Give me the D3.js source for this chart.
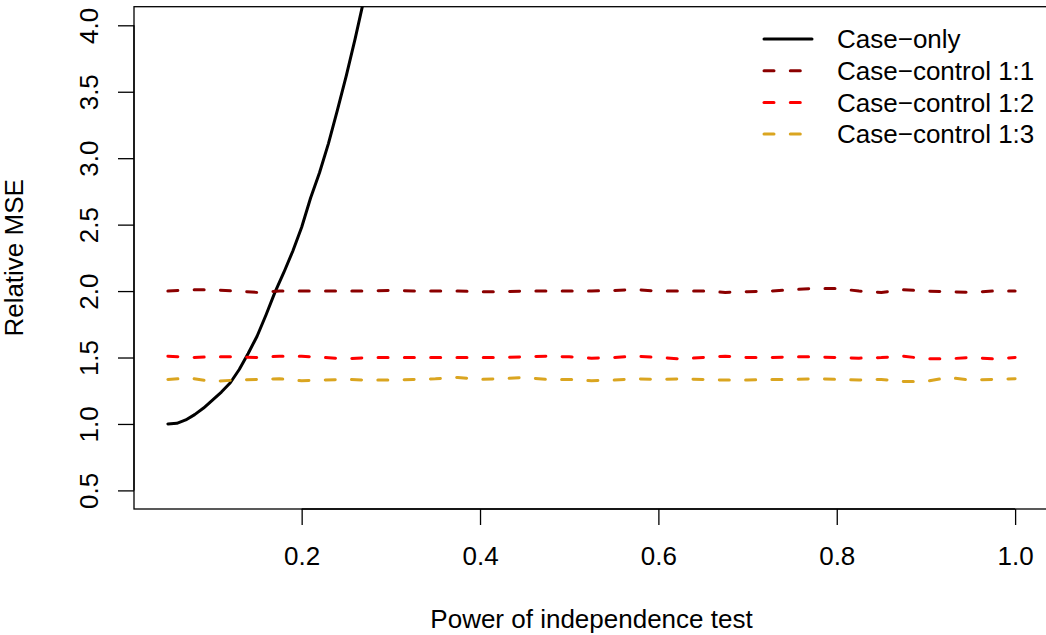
<!DOCTYPE html>
<html><head><meta charset="utf-8">
<script src="https://cdn.jsdelivr.net/npm/d3@7"></script>
<style>html,body{margin:0;padding:0;background:#fff;} svg{display:block;font-family:"Liberation Sans",Arial,sans-serif;}</style>
</head><body>
<script>
// ---- data ----
const caseOnlyX = [0.05,0.06,0.07,0.08,0.09,0.10,0.11,0.12,0.13,0.14,0.15,0.16,0.17,0.18,0.19,0.20,0.21,0.22,0.23,0.24,0.25,0.26,0.27];
const caseOnlyY = [1.00,1.005,1.03,1.07,1.12,1.18,1.24,1.31,1.41,1.53,1.66,1.82,1.99,2.14,2.30,2.48,2.70,2.89,3.11,3.36,3.62,3.90,4.20];
const ccX = [0.05,0.075,0.1,0.125,0.15,0.175,0.2,0.225,0.25,0.275,0.3,0.325,0.35,0.375,0.4,0.425,0.45,0.475,0.5,0.525,0.55,0.575,0.6,0.625,0.65,0.675,0.7,0.725,0.75,0.775,0.8,0.825,0.85,0.875,0.9,0.925,0.95,0.975,1.0];
const cc11 = [2.00,2.01,2.01,2.00,1.99,2.00,2.00,2.00,2.00,2.00,2.005,2.00,2.00,2.00,1.995,1.995,2.00,2.00,2.00,2.00,2.005,2.01,2.00,2.00,2.00,1.99,1.995,2.00,2.01,2.02,2.02,2.00,1.99,2.01,2.00,1.995,1.99,2.00,2.00];
const cc12 = [1.51,1.50,1.505,1.505,1.50,1.51,1.51,1.50,1.49,1.50,1.50,1.50,1.50,1.50,1.50,1.50,1.505,1.51,1.505,1.495,1.50,1.51,1.50,1.49,1.50,1.51,1.50,1.50,1.505,1.505,1.50,1.495,1.50,1.51,1.49,1.49,1.50,1.49,1.50];
const cc13 = [1.335,1.345,1.32,1.33,1.335,1.34,1.325,1.33,1.335,1.33,1.33,1.335,1.34,1.35,1.335,1.34,1.35,1.335,1.335,1.325,1.33,1.34,1.335,1.34,1.335,1.33,1.33,1.335,1.335,1.34,1.335,1.33,1.335,1.32,1.32,1.35,1.33,1.335,1.34];
const xTicks = [0.2,0.4,0.6,0.8,1.0];
const yTicks = [0.5,1.0,1.5,2.0,2.5,3.0,3.5,4.0];
const legendLabels = ["Case\u2212only","Case\u2212control 1:1","Case\u2212control 1:2","Case\u2212control 1:3"];
const seriesColors = ["#000000","#8B0000","#FF0000","#DAA520"];

// ---- chart ----
const W = 1046, H = 635;
const L = 134, R = 1049, T = 6.7, B = 509;
const FS = 26;
const svg = d3.select("body").append("svg").attr("width", W).attr("height", H);
const x = d3.scaleLinear().domain([0.012, 1.038]).range([L, R]);
const y = d3.scaleLinear().domain([0.36, 4.14]).range([B, T]);

svg.append("defs").append("clipPath").attr("id","clip")
  .append("rect").attr("x",L).attr("y",T).attr("width",R-L).attr("height",B-T);

const line = d3.line().x(d => x(d[0])).y(d => y(d[1]));
const g = svg.append("g").attr("clip-path","url(#clip)");
const dash = "10,16.3";
const series = [
  {xs: caseOnlyX, ys: caseOnlyY, dashed: false},
  {xs: ccX, ys: cc11, dashed: true},
  {xs: ccX, ys: cc12, dashed: true},
  {xs: ccX, ys: cc13, dashed: true}
];
series.forEach((s,i) => {
  g.append("path").datum(s.xs.map((v,j)=>[v,s.ys[j]]))
    .attr("d", line).attr("fill","none")
    .attr("stroke", seriesColors[i]).attr("stroke-width", 3)
    .attr("stroke-linecap","round").attr("stroke-linejoin","round")
    .attr("stroke-dasharray", s.dashed ? dash : null);
});

// box
svg.append("rect").attr("x",L).attr("y",T).attr("width",R-L).attr("height",B-T)
  .attr("fill","none").attr("stroke","#000").attr("stroke-width",1.3);

// x axis
const xAxis = svg.append("g").attr("transform",`translate(0,${B})`)
  .call(d3.axisBottom(x).tickValues(xTicks).tickSize(16).tickFormat(d3.format(".1f")));
xAxis.select(".domain").attr("d", `M${x(xTicks[0])},0H${x(xTicks[xTicks.length-1])}`).attr("stroke-width",1.3);
xAxis.selectAll(".tick line").attr("stroke-width",1.3);
xAxis.selectAll(".tick text").attr("y", 56).attr("dy", null)
  .attr("font-size", FS).attr("font-family", '"Liberation Sans",Arial,sans-serif').attr("fill","#000");

// y axis
const yAxis = svg.append("g").attr("transform",`translate(${L},0)`)
  .call(d3.axisLeft(y).tickValues(yTicks).tickSize(16).tickFormat(d3.format(".1f")));
yAxis.select(".domain").attr("d", `M0,${y(yTicks[0])}V${y(yTicks[yTicks.length-1])}`).attr("stroke-width",1.3);
yAxis.selectAll(".tick line").attr("stroke-width",1.3);
yAxis.selectAll(".tick text")
  .attr("x", null).attr("dy", null)
  .attr("transform", "translate(-36.5,0) rotate(-90)")
  .attr("text-anchor","middle")
  .attr("font-size", FS).attr("font-family", '"Liberation Sans",Arial,sans-serif').attr("fill","#000");

// titles
svg.append("text").attr("x", (L+R)/2).attr("y", 628).attr("text-anchor","middle")
  .attr("font-size", FS).text("Power of independence test");
svg.append("text").attr("transform", `translate(23,${(T+B)/2}) rotate(-90)`).attr("text-anchor","middle")
  .attr("font-size", FS).text("Relative MSE");

// legend
const lg = svg.append("g");
legendLabels.forEach((lab,i) => {
  const cy = 39 + i*31.7;
  lg.append("line").attr("x1",764).attr("x2",812).attr("y1",cy).attr("y2",cy)
    .attr("stroke", seriesColors[i]).attr("stroke-width",3)
    .attr("stroke-linecap","round")
    .attr("stroke-dasharray", i===0 ? null : dash);
  lg.append("text").attr("x",837).attr("y",cy+9.3).attr("font-size",FS).text(lab);
});
</script>
</body></html>
